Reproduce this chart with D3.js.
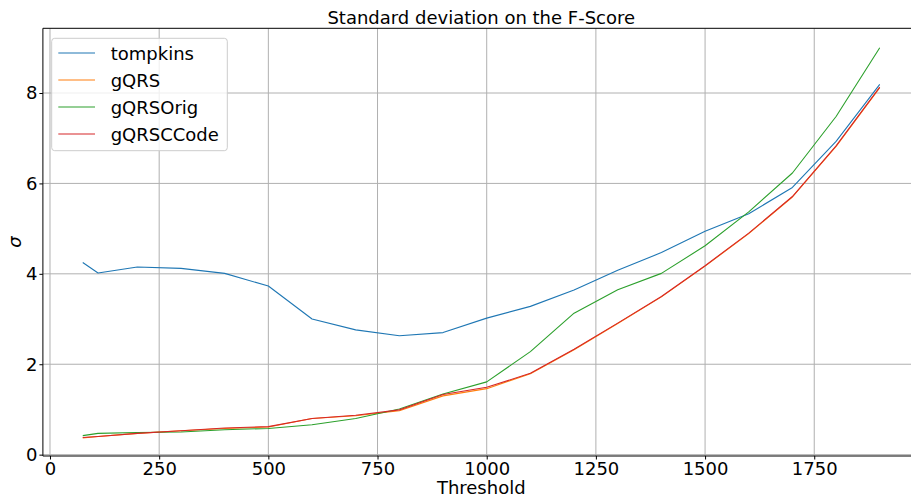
<!DOCTYPE html>
<html>
<head>
<meta charset="utf-8">
<script src="https://cdn.jsdelivr.net/npm/d3@7"></script>
<style>
  html, body { margin: 0; padding: 0; background: #fff; }
  svg { display: block; font-family: "DejaVu Sans", sans-serif; }
</style>
</head>
<body>
<svg id="chart" width="911" height="496"></svg>
<script>
// Threshold values (x) and the standard deviation of the F-Score per detector
const thresholds = [75, 110, 200, 300, 400, 500, 600, 700, 800, 900, 1000, 1100, 1200, 1300, 1400, 1500, 1600, 1700, 1800, 1900];
const tompkins   = [4.25, 4.02, 4.15, 4.12, 4.01, 3.73, 3.00, 2.76, 2.63, 2.70, 3.02, 3.28, 3.64, 4.08, 4.47, 4.94, 5.33, 5.91, 6.93, 8.19];
const gQRS       = [0.37, 0.40, 0.47, 0.53, 0.58, 0.61, 0.80, 0.86, 0.97, 1.30, 1.46, 1.79, 2.32, 2.90, 3.49, 4.17, 4.89, 5.70, 6.82, 8.12];
const gQRSOrig   = [0.42, 0.47, 0.49, 0.50, 0.55, 0.58, 0.66, 0.80, 1.01, 1.34, 1.61, 2.28, 3.13, 3.65, 4.01, 4.62, 5.37, 6.23, 7.48, 9.00];
const gQRSCCode  = [0.38, 0.40, 0.47, 0.53, 0.59, 0.62, 0.80, 0.87, 0.99, 1.33, 1.49, 1.80, 2.33, 2.91, 3.50, 4.18, 4.90, 5.71, 6.83, 8.13];

const seriesNames  = ["tompkins", "gQRS", "gQRSOrig", "gQRSCCode"];
const seriesValues = [tompkins, gQRS, gQRSOrig, gQRSCCode];
const seriesColors = ["#1f77b4", "#ff7f0e", "#2ca02c", "#d62728"];

const xTicks = [0, 250, 500, 750, 1000, 1250, 1500, 1750];
const yTicks = [0, 2, 4, 6, 8];

const titleText = "Standard deviation on the F-Score";
const xLabel = "Threshold";
const yLabel = "σ";

const svg = d3.select("#chart");
const plot = { left: 42.9, right: 919.6, top: 28.3, bottom: 456.0 };

// Axis limits padded by 5% of the data span on each side
const xMin = d3.min(thresholds), xMax = d3.max(thresholds);
const xPad = (xMax - xMin) * 0.05;
const allY = seriesValues.flat();
const yMin = d3.min(allY), yMax = d3.max(allY);
const yPad = (yMax - yMin) * 0.05;

const x = d3.scaleLinear().domain([xMin - xPad, xMax + xPad]).range([plot.left, plot.right]);
const y = d3.scaleLinear().domain([-0.03, yMax + yPad]).range([plot.bottom, plot.top]);

svg.append("defs").append("clipPath").attr("id", "plotClip")
  .append("rect")
  .attr("x", plot.left).attr("y", plot.top)
  .attr("width", plot.right - plot.left).attr("height", plot.bottom - plot.top);

// Grid
const grid = svg.append("g").attr("clip-path", "url(#plotClip)");
grid.selectAll("line.gx").data(xTicks).join("line")
  .attr("x1", d => x(d)).attr("x2", d => x(d))
  .attr("y1", plot.top).attr("y2", plot.bottom)
  .attr("stroke", "#b0b0b0").attr("stroke-width", 1);
grid.selectAll("line.gy").data(yTicks).join("line")
  .attr("x1", plot.left).attr("x2", plot.right)
  .attr("y1", d => y(d)).attr("y2", d => y(d))
  .attr("stroke", "#b0b0b0").attr("stroke-width", 1);

// Series lines
const line = d3.line().x(d => x(d[0])).y(d => y(d[1]));
const lines = svg.append("g").attr("clip-path", "url(#plotClip)");
seriesValues.forEach((vals, i) => {
  lines.append("path")
    .datum(thresholds.map((t, j) => [t, vals[j]]))
    .attr("d", line)
    .attr("fill", "none")
    .attr("stroke", seriesColors[i])
    .attr("stroke-width", 1.1)
    .attr("stroke-linejoin", "round");
});

// Axes
const xAxis = d3.axisBottom(x).tickValues(xTicks).tickSize(3.5).tickPadding(3).tickFormat(d3.format("d"));
const yAxis = d3.axisLeft(y).tickValues(yTicks).tickSize(3.5).tickPadding(2).tickFormat(d3.format("d"));

const gx = svg.append("g").attr("transform", `translate(0,${plot.bottom})`).call(xAxis);
const gy = svg.append("g").attr("transform", `translate(${plot.left},0)`).call(yAxis);
[gx, gy].forEach(g => {
  g.select(".domain").remove();
  g.selectAll(".tick line").attr("stroke", "#000").attr("stroke-width", 1);
  g.selectAll(".tick text").attr("fill", "#000")
    .style("font-family", "'DejaVu Sans', sans-serif").style("font-size", "18px");
});

// Spines
const spine = svg.append("g").attr("fill", "none").attr("stroke", "#000").attr("stroke-width", 1);
spine.append("line").attr("x1", plot.left).attr("x2", plot.left).attr("y1", plot.top).attr("y2", plot.bottom);
spine.append("line").attr("x1", plot.right).attr("x2", plot.right).attr("y1", plot.top).attr("y2", plot.bottom);
spine.append("line").attr("x1", plot.left).attr("x2", plot.right).attr("y1", plot.top).attr("y2", plot.top);
spine.append("line").attr("x1", plot.left).attr("x2", plot.right).attr("y1", plot.bottom).attr("y2", plot.bottom);

// Title and axis labels
const cx = (plot.left + plot.right) / 2;
svg.append("text").attr("x", cx).attr("y", 24).attr("text-anchor", "middle")
  .style("font-size", "18px").attr("fill", "#000").text(titleText);
svg.append("text").attr("x", cx).attr("y", 494).attr("text-anchor", "middle")
  .style("font-size", "18px").attr("fill", "#000").text(xLabel);
svg.append("text")
  .attr("transform", `translate(21,${(plot.top + plot.bottom) / 2}) rotate(-90)`)
  .attr("text-anchor", "middle").style("font-size", "18px").style("font-style", "italic")
  .attr("fill", "#000").text(yLabel);

// Legend
const legend = svg.append("g");
legend.append("rect")
  .attr("x", 51.7).attr("y", 38.3).attr("width", 175.6).attr("height", 112.4)
  .attr("rx", 3).attr("ry", 3)
  .attr("fill", "#fff").attr("fill-opacity", 0.8)
  .attr("stroke", "#cccccc").attr("stroke-width", 1);
const rowY = d3.scaleLinear().domain([0, 3]).range([53, 134]);
seriesNames.forEach((name, i) => {
  const ry = Math.round(rowY(i));
  legend.append("line")
    .attr("x1", 58.3).attr("x2", 95).attr("y1", ry).attr("y2", ry)
    .attr("stroke", seriesColors[i]).attr("stroke-width", 1.1);
  legend.append("text")
    .attr("x", 110.7).attr("y", ry + 6.5)
    .style("font-size", "18px").attr("fill", "#000").text(name);
});
</script>
</body>
</html>
